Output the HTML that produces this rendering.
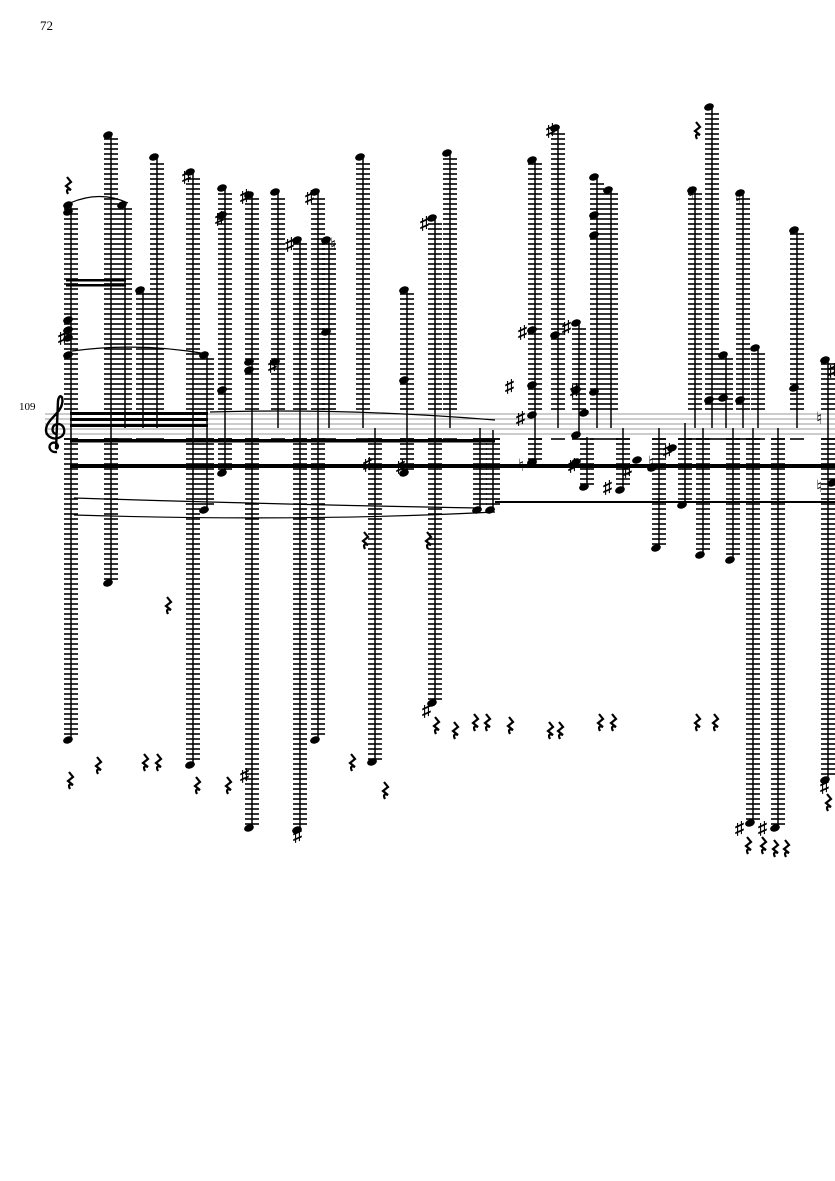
<!DOCTYPE html>
<html><head><meta charset="utf-8"><style>
html,body{margin:0;padding:0;background:#fff;}
svg{display:block;}
text{font-family:"Liberation Serif","DejaVu Serif",serif;}
</style></head><body>
<svg id="s" width="835" height="1181" viewBox="0 0 835 1181" xmlns="http://www.w3.org/2000/svg">
<rect width="835" height="1181" fill="#fff"/>
<text x="40" y="30" font-size="13">72</text>
<text x="19" y="410" font-size="11">109</text>
<g id="staff" stroke="#999" stroke-width="1">
<line x1="45" y1="414" x2="835" y2="414"/><line x1="45" y1="419" x2="835" y2="419"/>
<line x1="45" y1="424" x2="835" y2="424"/><line x1="45" y1="429" x2="835" y2="429"/>
<line x1="45" y1="434" x2="835" y2="434"/>
</g>
<path d="M57 452 C50 453 47 446 52 443 C57 441 60 447 56 449 M56 449 L58 401 C59 393 64 396 62 404 C60 414 46 420 46 430 C46 438 56 441 62 436 C67 431 63 423 57 424 C51 425 51 434 57 434" fill="none" stroke="#000" stroke-width="2.4"/>
<g id="g"></g>
<g fill="none" stroke="#000" stroke-width="1.2">
<path d="M70 203 Q100 190 128 203"/>
<path d="M72 351 Q140 342 207 354"/>
<path d="M210 412 Q350 408 495 420"/>
<path d="M74 498 Q300 505 480 508"/>
<path d="M74 515 Q300 522 495 512"/>
</g>
<g fill="#000">
<rect x="70" y="412" width="138" height="3"/><rect x="70" y="418" width="138" height="3"/><rect x="70" y="424" width="138" height="3"/>
<rect x="66" y="279" width="60" height="2.5"/><rect x="66" y="284" width="60" height="2.5"/>
<rect x="70" y="439" width="425" height="3.5"/>
<rect x="70" y="464" width="765" height="4"/>
<rect x="495" y="501" width="340" height="2"/>
</g>
</svg>
<script>
var g=document.getElementById('g');var NS='http://www.w3.org/2000/svg';
function el(n,a){var e=document.createElementNS(NS,n);for(var k in a)e.setAttribute(k,a[k]);g.appendChild(e);return e;}
var stems=[[71,205,740],[111,135,583],[125,205,428],[143,290,428],[157,157,428],[193,172,765],[207,355,510],[225,188,473],[252,195,828],[278,192,428],[300,240,830],[318,192,740],[329,240,428],[363,157,428],[375,428,762],[407,290,473],[435,218,703],[450,153,428],[480,428,510],[493,430,510],[535,160,463],[558,128,428],[579,323,437],[587,437,487],[597,177,428],[611,190,428],[623,428,490],[659,428,548],[685,423,505],[695,190,428],[703,428,555],[712,107,428],[726,355,428],[733,428,560],[743,193,428],[753,428,823],[758,348,428],[778,428,828],[797,230,428],[828,360,780]];
stems.forEach(function(s){var x=s[0],t=s[1],b=s[2];
el('line',{x1:x,y1:t,x2:x,y2:b,stroke:'#000','stroke-width':1.5});
for(var y=439;y>t+2;y-=5){if(y>=412&&y<=436)continue;el('line',{x1:x-7,y1:y,x2:x+7,y2:y,stroke:'#000','stroke-width':1.6});}
for(var y=439;y<b-2;y+=5){el('line',{x1:x-7,y1:y,x2:x+7,y2:y,stroke:'#000','stroke-width':1.6});}
if(t<412)el('ellipse',{cx:x-3,cy:t,rx:5,ry:3.5,transform:'rotate(-20 '+(x-3)+' '+t+')',fill:'#000'});
if(b>440)el('ellipse',{cx:x-3,cy:b,rx:5,ry:3.5,transform:'rotate(-20 '+(x-3)+' '+b+')',fill:'#000'});
});
var heads=[[71,212],[71,320],[71,330],[71,338],[71,355],[225,215],[225,390],[252,362],[252,370],[278,362],[329,332],[407,380],[535,330],[535,385],[535,415],[558,335],[579,390],[579,435],[587,413],[597,215],[597,235],[597,392],[712,400],[726,398],[743,400],[797,388],[535,462],[579,462],[640,460],[655,468],[675,448],[835,483]];
heads.forEach(function(h){el('ellipse',{cx:h[0]-3,cy:h[1],rx:5,ry:3.5,transform:'rotate(-20 '+(h[0]-3)+' '+h[1]+')',fill:'#000'});});
var sh=[[182,176],[215,218],[240,196],[268,365],[305,197],[285,244],[420,223],[58,337],[363,464],[396,466],[518,332],[505,386],[516,418],[562,327],[570,390],[568,465],[603,487],[623,470],[663,450],[240,775],[293,835],[422,710],[546,130],[735,828],[758,828],[820,786],[828,370]];
sh.forEach(function(p){var t=el('text',{x:p[0],y:p[1]+6,'font-size':18,'font-weight':'bold','font-family':'DejaVu Sans, sans-serif'});t.textContent='\u266F';});
var nt=[[330,244],[688,193],[735,198],[518,465],[648,462],[816,486],[816,418]];
nt.forEach(function(p){var t=el('text',{x:p[0],y:p[1]+6,'font-size':17,'font-weight':'bold','font-family':'DejaVu Sans, sans-serif'});t.textContent='\u266E';});
var rests=[[68,185],[168,605],[145,762],[158,762],[197,785],[228,785],[352,762],[365,540],[428,540],[436,725],[475,722],[487,722],[600,722],[613,722],[697,722],[715,722],[748,845],[763,845],[775,848],[786,848],[828,802],[697,130],[70,780],[98,765],[455,730],[510,725],[550,730],[560,730],[385,790]];
rests.forEach(function(r){var x=r[0],y=r[1];el('path',{d:'M'+(x-1)+' '+(y-8)+' L'+(x+3)+' '+(y-3)+' L'+(x-2)+' '+(y+1)+' L'+(x+3)+' '+(y+5)+' Q'+(x-3)+' '+(y+3)+' '+(x)+' '+(y+9),fill:'none',stroke:'#000','stroke-width':2.2});});
</script>
</body></html>
